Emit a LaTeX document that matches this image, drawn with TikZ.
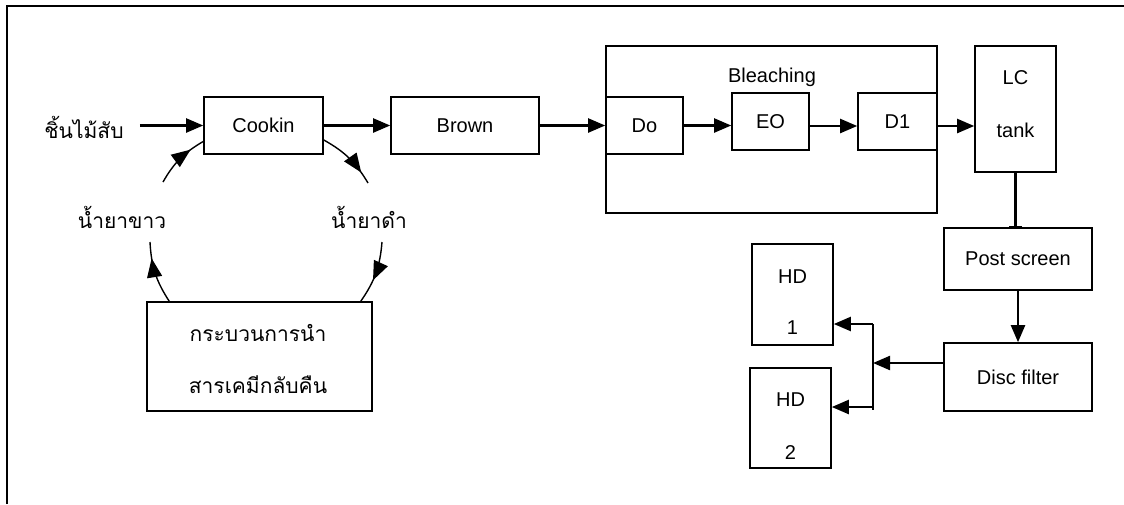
\documentclass[tikz,border=0pt]{standalone}
\usepackage{fontspec}
\setmainfont{Liberation Sans}
\newfontfamily\thaifont[Script=Thai]{Loma}
\usetikzlibrary{arrows.meta,decorations.markings}
\tikzset{
  box/.style={draw=black, line width=1.6pt, inner sep=0pt, fill=white},
  lat/.style={font=\fontsize{20}{23}\selectfont},
  th/.style={font=\thaifont\fontsize{21}{24}\selectfont, inner sep=0pt},
  conn/.style={line width=2.2pt, -{Triangle[length=17pt,width=14pt]}},
  arcline/.style={line width=1.4pt},
  midarrow/.style={postaction={decorate}, decoration={markings, mark=at position #1 with {\arrow{Triangle[length=19pt,width=15pt]}}}},
}
\begin{document}
\begin{tikzpicture}[x=1pt,y=-1pt]
\useasboundingbox (0,0) rectangle (1124,504);
% frame
\draw[line width=2pt] (7,504) -- (7,6) -- (1124,6);
% boxes
\node[box, minimum width=119pt, minimum height=57pt, lat] (cook) at (263.5,125.5) {Cookin};
\node[box, minimum width=148pt, minimum height=57pt, lat] (brown) at (465,125.5) {Brown};
\node[box, minimum width=331pt, minimum height=167pt] (bleach) at (771.5,129.5) {};
\node[font=\fontsize{20}{22}\selectfont, inner sep=0pt] (bltxt) at (772,77) {Bleaching};
\node[box, minimum width=77pt, minimum height=57pt, lat] (do) at (644.5,125.5) {Do};
\node[box, minimum width=77pt, minimum height=57pt, lat] (eo) at (770.5,121.5) {EO};
\node[box, minimum width=79pt, minimum height=57pt, lat] (d1) at (897.5,121.5) {D1};
\node[box, minimum width=81pt, minimum height=126pt] (lc) at (1015.5,109) {};
\node[lat, inner sep=0pt] (lct1) at (1015.5,78) {LC};
\node[lat, inner sep=0pt] (lct2) at (1015.5,130) {tank};
\node[box, minimum width=148pt, minimum height=62pt, lat] (post) at (1018,259) {Post screen};
\node[box, minimum width=148pt, minimum height=68pt, lat] (disc) at (1018,377) {Disc filter};
\node[box, minimum width=81pt, minimum height=101pt] (hd1) at (792.5,294.5) {};
\node[lat, inner sep=0pt] (hd1a) at (792.5,277) {HD};
\node[lat, inner sep=0pt] (hd1b) at (792.5,328) {1};
\node[box, minimum width=81pt, minimum height=100pt] (hd2) at (790.5,418) {};
\node[lat, inner sep=0pt] (hd2a) at (790.5,400) {HD};
\node[lat, inner sep=0pt] (hd2b) at (790.5,453) {2};
\node[box, minimum width=225pt, minimum height=109pt] (rec) at (259.5,356.5) {};
\node[th] (rect1) at (258,333) {กระบวนการนำ};
\node[th] (rect2) at (258,385) {สารเคมีกลับคืน};
% texts
\node[th] (inp) at (84,127) {ชิ้นไม้สับ};
\node[th] (white) at (122,217) {น้ำยาขาว};
\node[th] (black) at (369,217) {น้ำยาดำ};
% main flow
\draw[conn] ([xshift=16pt]inp.east |- cook.west) -- (cook.west);
\draw[conn] (cook.east) -- (brown.west);
\draw[conn] (brown.east) -- (do.west);
\draw[conn] (do.east) -- (do.east -| eo.west);
\draw[conn] ([yshift=-4.5pt]eo.east) -- ([yshift=-4.5pt]d1.west);
\draw[conn] ([yshift=-4.5pt]d1.east) -- ([yshift=-4.5pt]d1.east -| lc.west);
\draw[line width=2.2pt, -{Bar[width=13pt,line width=1.6pt]}] (lc.south) -- (lc.south |- post.north);
\draw[conn] (post.south) -- (disc.north);
\coordinate (j) at (873,363);
\coordinate (jt) at (873,324);
\coordinate (jb) at (873,410);
\coordinate (j2) at (873,407);
\draw[conn] ([yshift=14pt]disc.west) -- (j);
\draw[line width=1.6pt] (jt) -- (jb);
\draw[conn] (jt) -- (jt -| hd1.east);
\draw[conn] (j2) -- (j2 -| hd2.east);
% recovery loop
\coordinate (ul) at (163,182);
\coordinate (ur) at (368,183);
\coordinate (ll) at (150,242);
\coordinate (lr) at (382,242);
\draw[arcline, midarrow=0.74] (ul) to[bend left=15] ([yshift=-16pt]cook.west);
\draw[arcline, midarrow=0.8] ([yshift=-14.5pt]cook.east) to[bend left=15] (ur);
\draw[arcline, midarrow=0.74] ([xshift=23pt]rec.north west) to[bend left=15] (ll);
\draw[arcline, midarrow=0.62] (lr) to[bend left=15] ([xshift=-12pt]rec.north east);
\end{tikzpicture}
\end{document}
